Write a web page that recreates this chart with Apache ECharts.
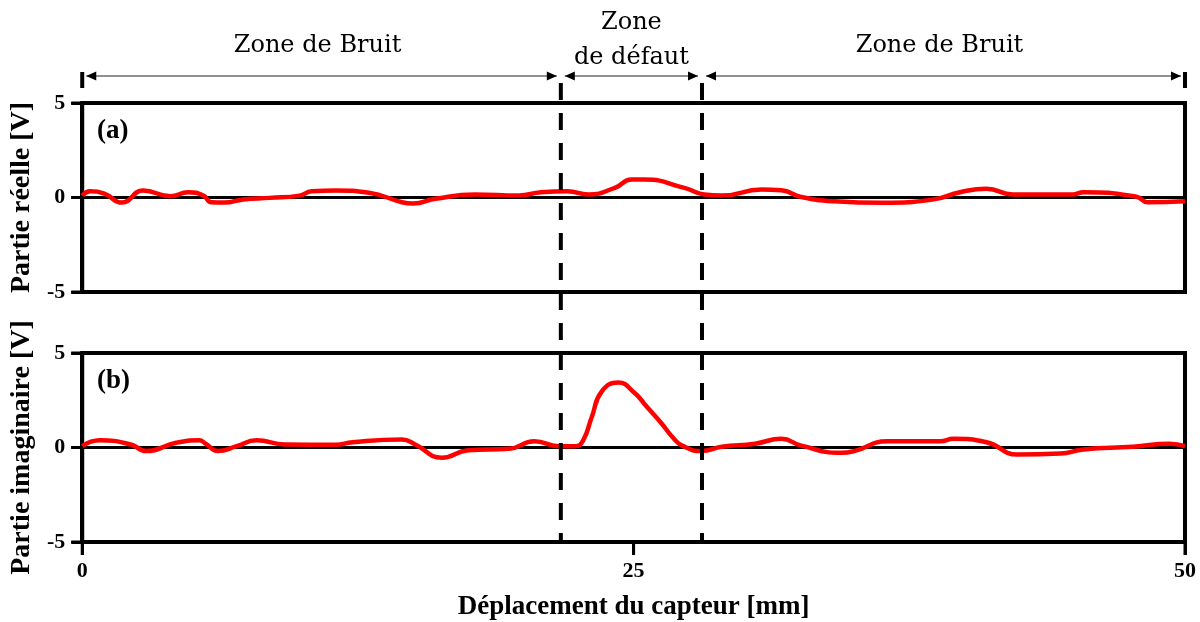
<!DOCTYPE html>
<html><head><meta charset="utf-8">
<script src="https://cdn.jsdelivr.net/npm/echarts@6/dist/echarts.min.js"></script>
<style>html,body{margin:0;padding:0;background:#fff}#c{width:1200px;height:622px}</style>
</head><body><div id="c"></div>
<script>
// ---- data ----
const realX = [0, 0.36, 1.0, 1.8, 2.76, 4.0, 4.8, 5.5, 5.85, 6.45, 7.3, 8.5, 9.85, 10.4, 11.5, 13, 14.5, 15, 16, 17.8, 19.8, 20.8, 22, 22.95, 24.15, 24.9, 25.5, 27.3, 28.2, 29, 30.8, 31.7, 32.6, 34.1, 36.3, 38.6, 39.8, 41, 42.2, 44.9, 45.4, 47.8, 48.3, 50];
const realY = [0.1, 0.33, 0.2, -0.27, 0.37, 0.07, 0.28, 0.1, -0.25, -0.27, -0.1, -0.02, 0.1, 0.33, 0.37, 0.25, -0.25, -0.32, -0.07, 0.16, 0.1, 0.28, 0.33, 0.16, 0.51, 0.95, 0.95, 0.51, 0.16, 0.1, 0.42, 0.38, 0.03, -0.2, -0.28, -0.1, 0.28, 0.46, 0.16, 0.16, 0.28, 0.04, -0.25, -0.2];
const imagX = [0, 0.8, 2.2, 2.9, 4.25, 5.3, 5.6, 6.15, 7, 7.9, 9.2, 11.5, 12.25, 14.5, 15.1, 16.3, 17.5, 19.35, 20.5, 21.6, 22.35, 22.7, 23.1, 23.55, 24.3, 25.05, 25.6, 26.25, 26.8, 27.2, 28.07, 29, 30.5, 31.7, 32.6, 34.4, 35, 36.5, 38.9, 39.5, 41, 42.4, 44.35, 45.4, 47.65, 49.3, 50];
const imagY = [0.07, 0.38, 0.16, -0.19, 0.25, 0.38, 0.2, -0.19, 0.07, 0.38, 0.16, 0.14, 0.28, 0.42, 0.16, -0.54, -0.14, -0.07, 0.33, 0.07, 0.07, 0.35, 1.6, 2.96, 3.44, 2.88, 2.15, 1.3, 0.5, 0.1, -0.19, 0.04, 0.2, 0.46, 0.1, -0.28, -0.19, 0.33, 0.33, 0.46, 0.28, -0.37, -0.32, -0.1, 0.04, 0.2, 0.07];
const xMin = 0, xMax = 50, xInterval = 25;
const yMin = -5, yMax = 5, yInterval = 5;
const xTickValues = [0, 25, 50];
const yTickValues = [-5, 0, 5];
const zoneBounds = [0, 21.7, 28.1, 50];
const zoneLabels = ['Zone de Bruit', 'Zone\nde défaut', 'Zone de Bruit'];
const panelLabels = ['(a)', '(b)'];
const yNames = ['Partie réelle [V]', 'Partie imaginaire [V]'];
const xName = 'Déplacement du capteur [mm]';

// ---- chart ----
const chart = echarts.init(document.getElementById('c'), null, {renderer: 'canvas'});
const serif = '"Liberation Serif", "Times New Roman", serif';
const zoneFont = '"DejaVu Serif", serif';
const grids = [
  {left: 79, right: 15, top: 103, height: 189},
  {left: 79, right: 15, top: 353, height: 189}
];
function zip(a, b) { return a.map((v, i) => [v, b[i]]); }

const option = {
  backgroundColor: '#fff',
  animation: false,
  grid: grids.map(g => Object.assign({show: true, borderColor: '#000', borderWidth: 4, backgroundColor: 'transparent'}, g)),
  xAxis: [0, 1].map(i => ({
    type: 'value', gridIndex: i, min: xMin, max: xMax, interval: xInterval, position: 'bottom',
    axisLine: {show: true, onZero: false, lineStyle: {color: '#000', width: 4}},
    axisTick: {show: i === 1, length: 13, lineStyle: {color: '#000', width: 3}},
    axisLabel: {show: i === 1, margin: 18, color: '#000', fontFamily: serif, fontWeight: 'bold', fontSize: 22},
    splitLine: {show: false},
    name: i === 1 ? xName : '',
    nameLocation: 'middle', nameGap: 52,
    nameTextStyle: {color: '#000', fontFamily: serif, fontWeight: 'bold', fontSize: 27}
  })),
  yAxis: [0, 1].map(i => ({
    type: 'value', gridIndex: i, min: yMin, max: yMax, interval: yInterval, position: 'left',
    axisLine: {show: true, onZero: false, lineStyle: {color: '#000', width: 4}},
    axisTick: {show: true, length: 11, lineStyle: {color: '#000', width: 3}},
    axisLabel: {margin: 17, color: '#000', fontFamily: serif, fontWeight: 'bold', fontSize: 22},
    splitLine: {show: true, lineStyle: {color: '#000', width: 3}},
    name: yNames[i], nameLocation: 'middle', nameGap: 44, nameRotate: 90,
    nameTextStyle: {color: '#000', fontFamily: serif, fontWeight: 'bold', fontSize: 28}
  })),
  series: [
    {type: 'line', xAxisIndex: 0, yAxisIndex: 0, data: zip(realX, realY), smooth: 0.5, showSymbol: false,
     lineStyle: {color: '#ff0000', width: 4.5}, z: 5},
    {type: 'line', xAxisIndex: 1, yAxisIndex: 1, data: zip(imagX, imagY), smooth: 0.5, showSymbol: false,
     lineStyle: {color: '#ff0000', width: 4.5}, z: 5}
  ]
};
chart.setOption(option);

// ---- annotations through the axis scales ----
const px = v => chart.convertToPixel({xAxisIndex: 1}, v);
const topY = chart.convertToPixel({yAxisIndex: 0}, yMax);
const botY = chart.convertToPixel({yAxisIndex: 1}, yMin);
const leftX = px(xMin);
const g = [];
// explicit outward ticks
xTickValues.forEach(v => {
  const x = px(v);
  g.push({type: 'line', shape: {x1: x, y1: botY, x2: x, y2: botY + 13}, style: {stroke: '#000', lineWidth: 3}, z: 20});
});
[0, 1].forEach(ai => yTickValues.forEach(v => {
  const y = chart.convertToPixel({yAxisIndex: ai}, v);
  g.push({type: 'line', shape: {x1: leftX - 11, y1: y, x2: leftX, y2: y}, style: {stroke: '#000', lineWidth: 3}, z: 20});
}));
const arrowY = topY - 27;
zoneBounds.forEach((b, i) => {
  const x = px(b);
  if (i === 0 || i === zoneBounds.length - 1) {
    g.push({type: 'line', shape: {x1: x, y1: topY - 31, x2: x, y2: topY - 15}, style: {stroke: '#000', lineWidth: 4}, z: 20});
  } else {
    g.push({type: 'line', shape: {x1: x, y1: topY - 20, x2: x, y2: botY}, style: {stroke: '#000', lineWidth: 4, lineDash: [17, 13]}, z: 20});
  }
});
for (let i = 0; i < zoneBounds.length - 1; i++) {
  const a = px(zoneBounds[i]) + 4, b = px(zoneBounds[i + 1]) - 4;
  g.push({type: 'line', shape: {x1: a, y1: arrowY, x2: b, y2: arrowY}, style: {stroke: '#222', lineWidth: 1.2}, z: 20});
  g.push({type: 'polygon', shape: {points: [[a, arrowY], [a + 10, arrowY - 4.5], [a + 10, arrowY + 4.5]]}, style: {fill: '#000'}, z: 21});
  g.push({type: 'polygon', shape: {points: [[b, arrowY], [b - 10, arrowY - 4.5], [b - 10, arrowY + 4.5]]}, style: {fill: '#000'}, z: 21});
  const cx = (px(zoneBounds[i]) + px(zoneBounds[i + 1])) / 2;
  const multi = zoneLabels[i].indexOf('\n') >= 0;
  g.push({type: 'text', x: cx - (multi ? 0 : 4), y: multi ? topY - 63 : topY - 57, z: 22,
    style: {text: zoneLabels[i], fill: '#000', font: '24px ' + zoneFont, align: 'center', verticalAlign: 'middle', lineHeight: 35}});
}
grids.forEach((gr, i) => {
  g.push({type: 'text', x: gr.left + 18, y: gr.top + 28, z: 22,
    style: {text: panelLabels[i], fill: '#000', font: 'bold 27px ' + serif, align: 'left', verticalAlign: 'middle'}});
});
chart.setOption({graphic: {elements: g}});
</script>
</body></html>
